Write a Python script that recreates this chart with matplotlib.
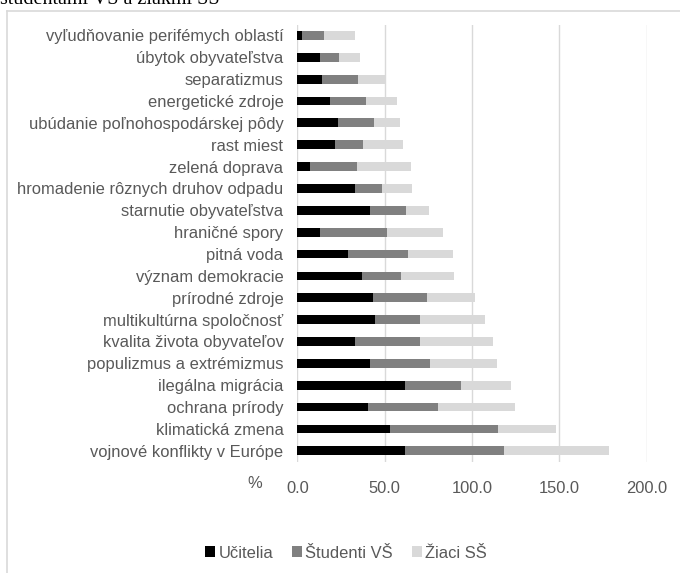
import numpy as np
import matplotlib.pyplot as plt
from matplotlib.lines import Line2D

plt.rcParams['font.family'] = ['Liberation Sans', 'DejaVu Sans']

categories = [
    "vyľudňovanie perifémych oblastí",
    "úbytok obyvateľstva",
    "separatizmus",
    "energetické zdroje",
    "ubúdanie poľnohospodárskej pôdy",
    "rast miest",
    "zelená doprava",
    "hromadenie rôznych druhov odpadu",
    "starnutie obyvateľstva",
    "hraničné spory",
    "pitná voda",
    "význam demokracie",
    "prírodné zdroje",
    "multikultúrna spoločnosť",
    "kvalita života obyvateľov",
    "populizmus a extrémizmus",
    "ilegálna migrácia",
    "ochrana prírody",
    "klimatická zmena",
    "vojnové konflikty v Európe",
]
ucitelia = [2.7, 13.2, 14.3, 18.7, 23.3, 21.6, 7.3, 33.2, 41.6, 13.2,
            28.9, 37.1, 43.2, 44.3, 33.2, 41.6, 61.5, 40.3, 53.1, 61.5]
studenti = [12.8, 10.7, 20.5, 20.6, 20.5, 16.0, 27.1, 15.5, 20.5, 38.2,
            34.7, 22.1, 30.9, 26.0, 37.1, 34.4, 32.1, 40.1, 62.0, 57.1]
ziaci = [17.5, 12.0, 16.0, 17.6, 14.8, 22.8, 30.9, 17.2, 13.2, 32.0,
         25.6, 30.4, 27.7, 37.0, 41.6, 38.5, 28.8, 44.3, 32.7, 60.1]
series_names = ["Učitelia", "Študenti VŠ", "Žiaci SŠ"]
colors = ["#000000", "#808080", "#d9d9d9"]
xticks = [0, 50, 100, 150, 200]

W, H = 680, 573
fig = plt.figure(figsize=(W / 100, H / 100), dpi=100)
ax = fig.add_axes([297.3 / W, 1 - 461.7 / H, (646.7 - 297.3) / W, (461.7 - 24.5) / H])

y = np.arange(len(categories))
left = np.zeros(len(categories))
for vals, name, c in zip([ucitelia, studenti, ziaci], series_names, colors):
    ax.barh(y, vals, left=left, height=0.4, color=c, label=name, zorder=2)
    left += np.array(vals)

ax.set_ylim(len(categories) - 0.5, -0.5)
ax.set_xlim(0, 200)
ax.set_xticks(xticks)
ax.set_xticklabels([f"{t:.1f}" for t in xticks])
ax.set_yticks(y)
ax.set_yticklabels(categories)
ax.tick_params(axis='both', length=0, labelsize=11.9, colors="#595959")
ax.tick_params(axis='x', pad=14)
ax.tick_params(axis='y', pad=10)
ax.grid(axis='x', color="#d9d9d9", linewidth=1, zorder=0)
for s in ax.spines.values():
    s.set_visible(False)

fig.text(255 / W, 1 - 484 / H, "%", ha='center', va='center', fontsize=11.9, color="#595959")

# title cut off at the top of the picture
fig.text(0, 1 - 4 / H, "študentami VŠ a žiakmi SŠ", ha='left', va='baseline',
         fontsize=14.5, family='Liberation Serif', color="black")

# frame (only left and top edges visible)
fig.add_artist(Line2D([7 / W, 7 / W], [0, 1 - 11 / H], transform=fig.transFigure,
                      color="#d9d9d9", linewidth=1.2))
fig.add_artist(Line2D([7 / W, 1], [1 - 11 / H, 1 - 11 / H], transform=fig.transFigure,
                      color="#d9d9d9", linewidth=1.2))

fig.legend(loc='center', bbox_to_anchor=(346 / W, 1 - 553 / H), ncol=3, frameon=False,
           handlelength=0.6, handleheight=0.6, handletextpad=0.2, columnspacing=1.15,
           fontsize=11.9, labelcolor="#595959")

fig.savefig("out.png", dpi=100)
